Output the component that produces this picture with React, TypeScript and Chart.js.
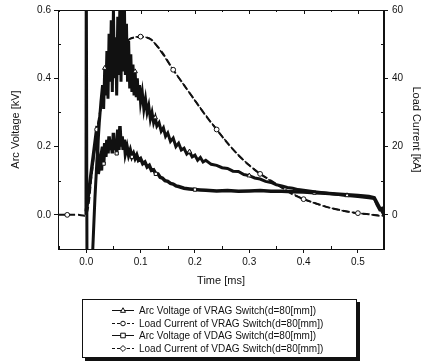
import React, { useEffect, useRef } from 'react';
import { Chart, registerables } from 'chart.js';
Chart.register(...registerables);

const FONT = "'Liberation Sans', Arial, Helvetica, sans-serif";

const xTicks = [0, 0.1, 0.2, 0.3, 0.4, 0.5];
const xMinorTicks = [-0.05, 0.05, 0.15, 0.25, 0.35, 0.45];
const voltTicks = [0, 0.2, 0.4, 0.6];
const voltMinorTicks = [-0.1, 0.1, 0.3, 0.5];
const currTicks = [0, 20, 40, 60];
const currMinorTicks = [-10, 10, 30, 50];

const seriesLabels = [
  'Arc Voltage of VRAG Switch(d=80[mm])',
  'Load Current of VRAG Switch(d=80[mm])',
  'Arc Voltage of VDAG Switch(d=80[mm])',
  'Load Current of VDAG Switch(d=80[mm])',
];

// [time ms, kV]
const vragVoltage: [number, number][] = [
  [-0.0005, 0.0], [0.0, 0.75], [0.0015, -0.25], [0.009, -0.25], [0.012, -0.1], [0.016, 0.05], [0.02, 0.17], [0.024, 0.27], [0.027, 0.33],
  [0.03, 0.38], [0.032, 0.31], [0.034, 0.43], [0.036, 0.35], [0.038, 0.48], [0.04, 0.34], [0.042, 0.53], [0.044, 0.39], [0.046, 0.57], [0.048, 0.36],
  [0.05, 0.6], [0.052, 0.4], [0.054, 0.52], [0.056, 0.35], [0.058, 0.58], [0.06, 0.41], [0.062, 0.63], [0.064, 0.39], [0.066, 0.61], [0.068, 0.42],
  [0.07, 0.64], [0.072, 0.41], [0.074, 0.56], [0.076, 0.39], [0.078, 0.51], [0.08, 0.37], [0.082, 0.47], [0.084, 0.36], [0.086, 0.44], [0.088, 0.35],
  [0.09, 0.42], [0.092, 0.345], [0.094, 0.4], [0.096, 0.335], [0.098, 0.38], [0.1, 0.33],
  [0.103, 0.36], [0.106, 0.31], [0.109, 0.34], [0.112, 0.3], [0.115, 0.32], [0.118, 0.28], [0.121, 0.3], [0.124, 0.27], [0.127, 0.285],
  [0.13, 0.26], [0.134, 0.27], [0.138, 0.245], [0.142, 0.255], [0.146, 0.23], [0.15, 0.24],
  [0.155, 0.215], [0.16, 0.225], [0.165, 0.2], [0.17, 0.21], [0.175, 0.19], [0.18, 0.195], [0.185, 0.178], [0.19, 0.185], [0.195, 0.17], [0.2, 0.175],
  [0.205, 0.16], [0.21, 0.168], [0.215, 0.155], [0.22, 0.16],
  [0.23, 0.148], [0.24, 0.145], [0.25, 0.138], [0.26, 0.136], [0.27, 0.128], [0.28, 0.127], [0.29, 0.118], [0.3, 0.115], [0.31, 0.108],
  [0.32, 0.105], [0.33, 0.098], [0.34, 0.095], [0.35, 0.088], [0.36, 0.085], [0.37, 0.08], [0.38, 0.078], [0.39, 0.074], [0.4, 0.072],
  [0.42, 0.068], [0.44, 0.064], [0.46, 0.06], [0.48, 0.057], [0.5, 0.054], [0.52, 0.05],
  [0.53, 0.048], [0.535, 0.03], [0.54, 0.015], [0.545, 0.02], [0.548, 0.02],
];

// [time ms, kA]
const vragCurrent: [number, number][] = [
  [-0.052, 0], [-0.035, 0], [-0.015, 0], [0.0, 0], [0.01, 12], [0.02, 25], [0.03, 34], [0.04, 40], [0.05, 44], [0.06, 47.5], [0.07, 50],
  [0.08, 51.5], [0.09, 52], [0.1, 52.2], [0.11, 52], [0.12, 51.3], [0.14, 47.5], [0.16, 42.5], [0.18, 38], [0.2, 33.5], [0.22, 29],
  [0.24, 25], [0.26, 21], [0.28, 17.5], [0.3, 14.5], [0.32, 12], [0.34, 10], [0.36, 8], [0.38, 6], [0.4, 4.6], [0.42, 3.5],
  [0.45, 2], [0.48, 1], [0.5, 0.5], [0.52, 0.2], [0.54, -0.3], [0.548, -0.3],
];

// [time ms, kV]
const vdagVoltage: [number, number][] = [
  [0.0, 0.01], [0.02, 0.26], [0.022, 0.12], [0.026, 0.16], [0.028, 0.13], [0.03, 0.2], [0.032, 0.15], [0.034, 0.21], [0.036, 0.17], [0.038, 0.22],
  [0.04, 0.18], [0.042, 0.23], [0.044, 0.19], [0.046, 0.22], [0.048, 0.18], [0.05, 0.24], [0.052, 0.19], [0.054, 0.22], [0.056, 0.18], [0.058, 0.25],
  [0.06, 0.19], [0.062, 0.26], [0.064, 0.2], [0.066, 0.23], [0.068, 0.19], [0.07, 0.22], [0.072, 0.18], [0.075, 0.2], [0.078, 0.175], [0.081, 0.19],
  [0.084, 0.17], [0.087, 0.18], [0.09, 0.165], [0.093, 0.175], [0.096, 0.16], [0.1, 0.165], [0.104, 0.15], [0.108, 0.155], [0.112, 0.14], [0.116, 0.145],
  [0.12, 0.13], [0.124, 0.132], [0.128, 0.12], [0.132, 0.12], [0.136, 0.11], [0.14, 0.108], [0.145, 0.1], [0.15, 0.098], [0.155, 0.092], [0.16, 0.09],
  [0.165, 0.085], [0.17, 0.083], [0.18, 0.078], [0.19, 0.076], [0.2, 0.074], [0.21, 0.073], [0.22, 0.072], [0.24, 0.07], [0.26, 0.071], [0.28, 0.069],
  [0.3, 0.07], [0.32, 0.071], [0.34, 0.069], [0.36, 0.069], [0.38, 0.068], [0.4, 0.067], [0.42, 0.065], [0.44, 0.063], [0.46, 0.061], [0.48, 0.059],
  [0.5, 0.057], [0.52, 0.054], [0.53, 0.05], [0.535, 0.035], [0.54, 0.02], [0.545, 0.01], [0.548, 0.0],
];

// [time ms, kA] — overlaps the VRAG current trace in the figure
const vdagCurrent: [number, number][] = [
  [0.0, 0], [0.02, 25], [0.04, 40], [0.06, 47.5], [0.08, 51.5], [0.1, 52.2], [0.12, 51.3], [0.16, 42.5], [0.2, 33.5], [0.24, 25],
  [0.28, 17.5], [0.32, 12], [0.36, 8], [0.4, 4.6], [0.45, 2], [0.5, 0.5], [0.548, -0.3],
];

const INK = '#111';

function drawMarker(ctx: CanvasRenderingContext2D, style: string, x: number, y: number, r: number) {
  ctx.beginPath();
  if (style === 'triangle') {
    ctx.moveTo(x, y - r * 1.2);
    ctx.lineTo(x + r * 1.1, y + r * 0.8);
    ctx.lineTo(x - r * 1.1, y + r * 0.8);
    ctx.closePath();
  } else if (style === 'rect') {
    ctx.rect(x - r, y - r, 2 * r, 2 * r);
  } else if (style === 'rectRot') {
    ctx.moveTo(x, y - r * 1.3);
    ctx.lineTo(x + r * 1.3, y);
    ctx.lineTo(x, y + r * 1.3);
    ctx.lineTo(x - r * 1.3, y);
    ctx.closePath();
  } else {
    ctx.arc(x, y, r, 0, Math.PI * 2);
  }
  ctx.fillStyle = '#fff';
  ctx.fill();
  ctx.lineWidth = 1;
  ctx.strokeStyle = INK;
  ctx.stroke();
}

const framePlugin = {
  id: 'frame',
  afterDatasetsDraw(chart: any) {
    const { ctx, chartArea: a, scales } = chart;
    ctx.save();
    ctx.strokeStyle = INK;
    ctx.lineWidth = 1;
    ctx.strokeRect(a.left + 0.5, a.top + 0.5, a.right - a.left - 1, a.bottom - a.top);
    ctx.beginPath();
    xTicks.forEach((v) => {
      const px = Math.round(scales.x.getPixelForValue(v)) + 0.5;
      ctx.moveTo(px, a.top);
      ctx.lineTo(px, a.top + 4);
    });
    xMinorTicks.forEach((v) => {
      const px = Math.round(scales.x.getPixelForValue(v)) + 0.5;
      ctx.moveTo(px, a.bottom);
      ctx.lineTo(px, a.bottom - 3);
      ctx.moveTo(px, a.top);
      ctx.lineTo(px, a.top + 2);
    });
    voltMinorTicks.forEach((v) => {
      const py = Math.round(scales.y.getPixelForValue(v)) + 0.5;
      ctx.moveTo(a.left, py);
      ctx.lineTo(a.left + 3, py);
    });
    currMinorTicks.forEach((v) => {
      const py = Math.round(scales.y1.getPixelForValue(v)) + 0.5;
      ctx.moveTo(a.right, py);
      ctx.lineTo(a.right - 3, py);
    });
    ctx.stroke();
    ctx.restore();
  },
};

const legendPlugin = {
  id: 'boxLegend',
  afterDraw(chart: any) {
    const { ctx } = chart;
    const bx = 82, by = 299, bw = 275, bh = 59;
    ctx.save();
    ctx.fillStyle = INK;
    ctx.fillRect(bx + 3, by + 3, bw, bh);
    ctx.fillStyle = '#fff';
    ctx.fillRect(bx, by, bw, bh);
    ctx.strokeStyle = INK;
    ctx.lineWidth = 1;
    ctx.strokeRect(bx + 0.5, by + 0.5, bw - 1, bh - 1);
    chart.data.datasets.forEach((ds: any, i: number) => {
      const y = Math.round(by + 11 + i * 12.7) + 0.5;
      ctx.save();
      ctx.strokeStyle = INK;
      ctx.lineWidth = 1;
      ctx.setLineDash(ds.borderDash && ds.borderDash.length ? [3, 2] : []);
      ctx.beginPath();
      ctx.moveTo(112, y);
      ctx.lineTo(134, y);
      ctx.stroke();
      ctx.restore();
      drawMarker(ctx, ds.pointStyle, 123, y, 2.3);
      ctx.fillStyle = INK;
      ctx.font = `10px ${FONT}`;
      ctx.textAlign = 'left';
      ctx.textBaseline = 'middle';
      ctx.fillText(ds.label, 139, y + 0.5);
    });
    ctx.restore();
  },
};

export default function App() {
  const ref = useRef<HTMLCanvasElement>(null);
  useEffect(() => {
    const toXY = (arr: [number, number][]) => arr.map(([x, y]) => ({ x, y }));
    const every = (n: number, k: number, r: number) => (c: any) => (c.dataIndex % n === k ? r : 0);
    const tickFont = { family: FONT, size: 10 };
    const titleFont = { family: FONT, size: 11 };
    const chart = new Chart(ref.current as HTMLCanvasElement, {
      type: 'line',
      data: {
        datasets: [
          {
            label: seriesLabels[0], data: toXY(vragVoltage), yAxisID: 'y',
            borderColor: INK, borderWidth: 3, pointStyle: 'triangle', pointRadius: every(14, 11, 2.6),
            pointBackgroundColor: '#fff', pointBorderColor: INK, pointBorderWidth: 1, tension: 0,
          },
          {
            label: seriesLabels[1], data: toXY(vragCurrent), yAxisID: 'y1',
            borderColor: INK, borderWidth: 2, borderDash: [7, 3], pointStyle: 'circle', pointRadius: every(4, 1, 2.4),
            pointBackgroundColor: '#fff', pointBorderColor: INK, pointBorderWidth: 1, tension: 0.3,
          },
          {
            label: seriesLabels[2], data: toXY(vdagVoltage), yAxisID: 'y',
            borderColor: INK, borderWidth: 3.5, pointStyle: 'rect', pointRadius: every(12, 6, 2.3),
            pointBackgroundColor: '#fff', pointBorderColor: INK, pointBorderWidth: 1, tension: 0,
          },
          {
            label: seriesLabels[3], data: toXY(vdagCurrent), yAxisID: 'y1',
            borderColor: INK, borderWidth: 1.5, borderDash: [7, 3], pointStyle: 'rectRot', pointRadius: 0,
            pointBackgroundColor: '#fff', pointBorderColor: INK, pointBorderWidth: 1, tension: 0.3,
          },
        ],
      },
      options: {
        responsive: false,
        animation: false,
        layout: { padding: { top: 10, bottom: 71, left: 0, right: 0 } },
        plugins: { legend: { display: false }, tooltip: { enabled: false } },
        scales: {
          x: {
            type: 'linear', min: -0.052, max: 0.548,
            afterBuildTicks: (s: any) => { s.ticks = xTicks.map((v) => ({ value: v })); },
            afterFit: (s: any) => { s.height = 41; },
            ticks: { callback: (v: any) => Number(v).toFixed(1), font: tickFont, color: INK, padding: 3, maxRotation: 0, autoSkip: false },
            grid: { drawOnChartArea: false, tickLength: 4, color: INK },
            border: { color: INK, width: 1 },
            title: { display: true, text: 'Time [ms]', font: titleFont, color: INK, padding: { top: 0, bottom: 2 } },
          },
          y: {
            type: 'linear', position: 'left', min: -0.1, max: 0.6,
            afterBuildTicks: (s: any) => { s.ticks = voltTicks.map((v) => ({ value: v })); },
            afterFit: (s: any) => { s.width = 58; },
            ticks: { callback: (v: any) => Number(v).toFixed(1), font: tickFont, color: INK, padding: 3, autoSkip: false },
            grid: { drawOnChartArea: false, tickLength: 4, color: INK },
            border: { color: INK, width: 1 },
            title: { display: true, text: 'Arc Voltage [kV]', font: titleFont, color: INK, padding: { top: 9, bottom: 0 } },
          },
          y1: {
            type: 'linear', position: 'right', min: -10, max: 60,
            afterBuildTicks: (s: any) => { s.ticks = currTicks.map((v) => ({ value: v })); },
            afterFit: (s: any) => { s.width = 46; },
            ticks: { callback: (v: any) => String(v), font: tickFont, color: INK, padding: 4, autoSkip: false },
            grid: { drawOnChartArea: false, tickLength: 4, color: INK },
            border: { color: INK, width: 1 },
            title: { display: true, text: 'Load Current [kA]', font: titleFont, color: INK, padding: { top: 7, bottom: 0 } },
          },
        },
      },
      plugins: [framePlugin, legendPlugin],
    } as any);
    return () => chart.destroy();
  }, []);
  return (
    <div style={{ position: 'absolute', left: 0, top: 0, width: 430, height: 361, background: '#fff' }}>
      <canvas ref={ref} width={430} height={361} style={{ display: 'block' }} />
    </div>
  );
}
